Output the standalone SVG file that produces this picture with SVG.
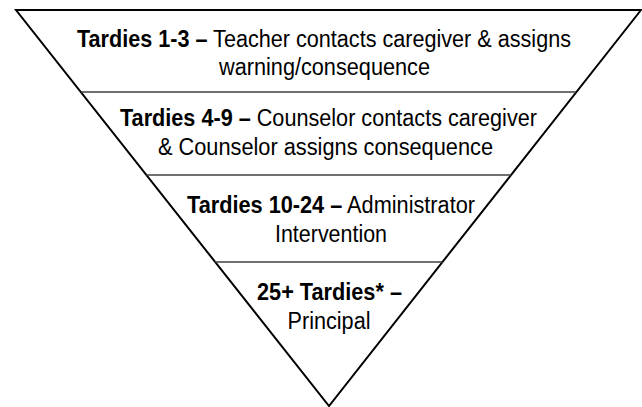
<svg xmlns="http://www.w3.org/2000/svg" width="642" height="407" viewBox="0 0 642 407">
  <style>
    .outline { fill: #ffffff; stroke: #000000; stroke-width: 2; stroke-linejoin: miter; }
    .divider { stroke: #404040; stroke-width: 1.5; fill: none; }
    .label { font-family: "Liberation Sans", Arial, sans-serif; font-size: 23px; fill: #000000; text-anchor: middle; }
    .b { font-weight: bold; }
  </style>
  <rect x="0" y="0" width="642" height="407" fill="#ffffff"/>
  <g id="pyramid">
    <path class="outline" d="M16,10 L641,10 L329,406 Z"/>
  </g>
  <g id="connectors">
    <line class="divider" x1="81" y1="92" x2="576" y2="92"/>
    <line class="divider" x1="146.5" y1="175" x2="511" y2="175"/>
    <line class="divider" x1="215" y1="262" x2="442.5" y2="262"/>
  </g>
  <g id="tier1">
    <text class="label" x="324" y="46.5" textLength="494" lengthAdjust="spacingAndGlyphs"><tspan class="b">Tardies 1-3 –</tspan> Teacher contacts caregiver &amp; assigns</text>
    <text class="label" x="324.5" y="75" textLength="211" lengthAdjust="spacingAndGlyphs">warning/consequence</text>
  </g>
  <g id="tier2">
    <text class="label" x="328.5" y="126" textLength="417" lengthAdjust="spacingAndGlyphs"><tspan class="b">Tardies 4-9 –</tspan> Counselor contacts caregiver</text>
    <text class="label" x="325.5" y="155" textLength="335" lengthAdjust="spacingAndGlyphs">&amp; Counselor assigns consequence</text>
  </g>
  <g id="tier3">
    <text class="label" x="331" y="213" textLength="288" lengthAdjust="spacingAndGlyphs"><tspan class="b">Tardies 10-24 –</tspan> Administrator</text>
    <text class="label" x="331" y="242" textLength="112" lengthAdjust="spacingAndGlyphs">Intervention</text>
  </g>
  <g id="tier4">
    <text class="label b" x="329.5" y="300" textLength="145" lengthAdjust="spacingAndGlyphs">25+ Tardies* –</text>
    <text class="label" x="329" y="329" textLength="83" lengthAdjust="spacingAndGlyphs">Principal</text>
  </g>
</svg>
